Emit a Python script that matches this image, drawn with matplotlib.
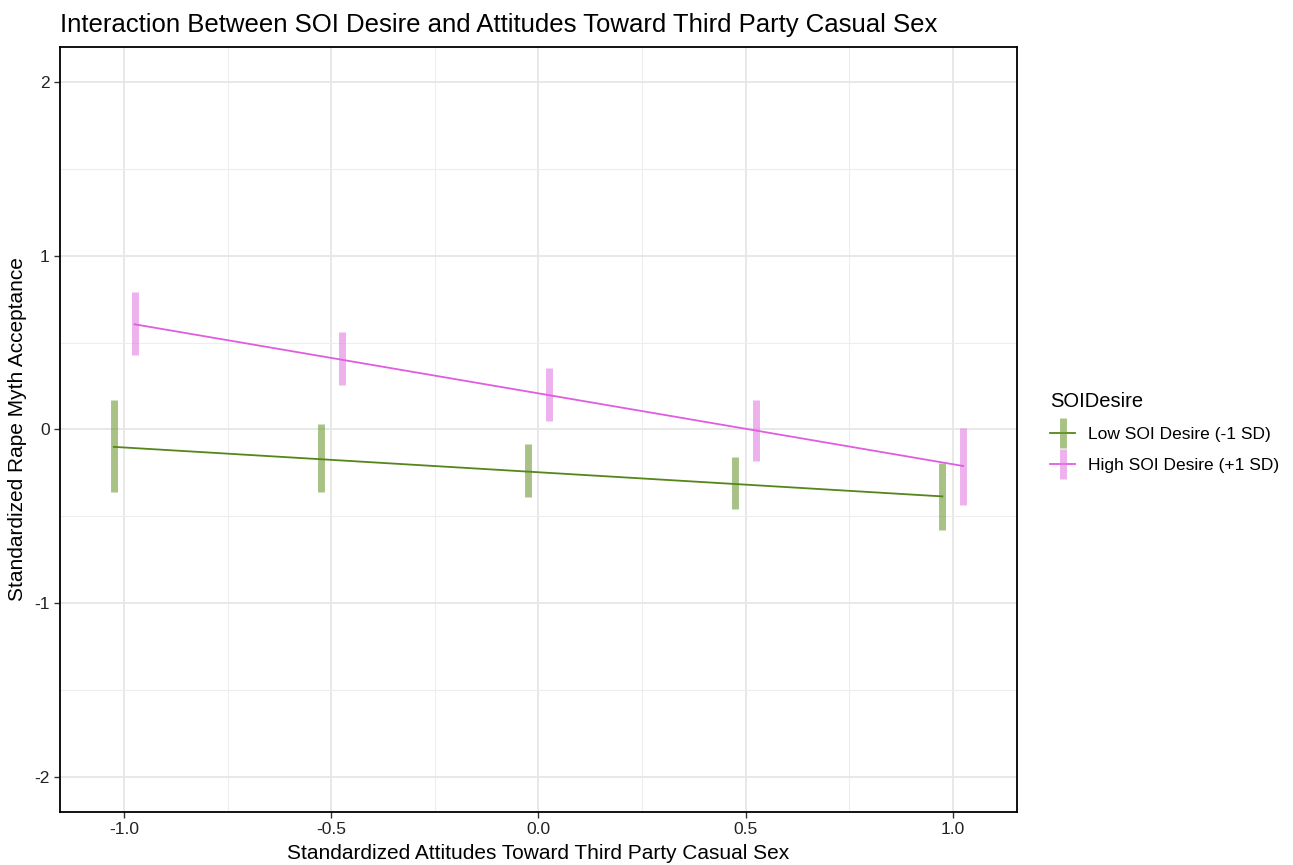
import matplotlib
matplotlib.use("Agg")
import matplotlib.pyplot as plt
from matplotlib.lines import Line2D
from matplotlib.legend_handler import HandlerTuple
from matplotlib.ticker import MultipleLocator
import numpy as np

plt.rcParams['font.family'] = ['Liberation Sans', 'DejaVu Sans']

# ---- data ----
x_levels = [-1.0, -0.5, 0.0, 0.5, 1.0]
fit_x = [-1.0, 1.0]
low_fit = [-0.10, -0.385]
high_fit = [0.605, -0.21]
low_lower = [-0.36, -0.36, -0.39, -0.46, -0.58]
low_upper = [0.17, 0.03, -0.085, -0.16, -0.19]
high_lower = [0.43, 0.255, 0.05, -0.18, -0.435]
high_upper = [0.79, 0.56, 0.355, 0.17, 0.01]
series_names = ["Low SOI Desire (-1 SD)", "High SOI Desire (+1 SD)"]
x_ticks = [-1.0, -0.5, 0.0, 0.5, 1.0]
x_tick_labels = ["-1.0", "-0.5", "0.0", "0.5", "1.0"]
y_ticks = [-2, -1, 0, 1, 2]
y_tick_labels = ["-2", "-1", "0", "1", "2"]

title = "Interaction Between SOI Desire and Attitudes Toward Third Party Casual Sex"
x_label = "Standardized Attitudes Toward Third Party Casual Sex"
y_label = "Standardized Rape Myth Acceptance"
legend_title = "SOIDesire"

# ---- style ----
dodge = 0.025
green_line = "#55861a"
green_bar = "#6f9a35"
pink_line = "#e05ce0"
pink_bar = "#e27ee2"

fig = plt.figure(figsize=(12.93, 8.65), dpi=100)
ax = fig.add_axes([0.0464, 0.0613, 0.7401, 0.8844])

ax.set_xlim(-1.155, 1.155)
ax.set_ylim(-2.2, 2.2)

ax.xaxis.set_minor_locator(MultipleLocator(0.25))
ax.yaxis.set_minor_locator(MultipleLocator(0.5))
ax.grid(True, which='major', color='#e6e6e6', linewidth=1.3, zorder=0)
ax.grid(True, which='minor', color='#ededed', linewidth=0.8, zorder=0)
ax.set_axisbelow(True)
ax.tick_params(which='minor', length=0)
ax.tick_params(which='major', length=4, width=1, color='#333333',
               labelsize=12.5, labelcolor='#222222', direction='out')

ax.set_xticks(x_ticks)
ax.set_xticklabels(x_tick_labels)
ax.set_yticks(y_ticks)
ax.set_yticklabels(y_tick_labels)

for s in ax.spines.values():
    s.set_color('black')
    s.set_linewidth(1.3)

xl = np.array(x_levels)
fx = np.array(fit_x)

# error bars (thick translucent segments)
ax.vlines(xl - dodge, low_lower, low_upper, colors=green_bar, linewidth=5,
          alpha=0.6, zorder=2)
ax.vlines(xl + dodge, high_lower, high_upper, colors=pink_bar, linewidth=5,
          alpha=0.6, zorder=2)

# fitted lines
ax.plot(fx - dodge, low_fit, color=green_line, linewidth=1.3, zorder=3)
ax.plot(fx + dodge, high_fit, color=pink_line, linewidth=1.3, zorder=3)

ax.set_title(title, loc='left', fontsize=18.5, pad=11)
ax.set_xlabel(x_label, fontsize=15, labelpad=5)
ax.set_ylabel(y_label, fontsize=15, labelpad=5)

# legend
h_low = (Line2D([], [], color=green_line, linewidth=1.3),
         Line2D([], [], linestyle='none', marker='|', markersize=21,
                markeredgewidth=5, color=green_bar, alpha=0.6))
h_high = (Line2D([], [], color=pink_line, linewidth=1.3),
          Line2D([], [], linestyle='none', marker='|', markersize=21,
                 markeredgewidth=5, color=pink_bar, alpha=0.6))
leg = fig.legend([h_low, h_high], series_names,
                 handler_map={tuple: HandlerTuple(ndivide=1, pad=0)},
                 title=legend_title, loc='center left',
                 bbox_to_anchor=(0.8, 0.5), frameon=False,
                 fontsize=12.5, title_fontsize=14.5, handlelength=1.45,
                 labelspacing=0.9, handletextpad=0.75)
leg._legend_box.align = "left"

fig.savefig("out.png", dpi=100)
